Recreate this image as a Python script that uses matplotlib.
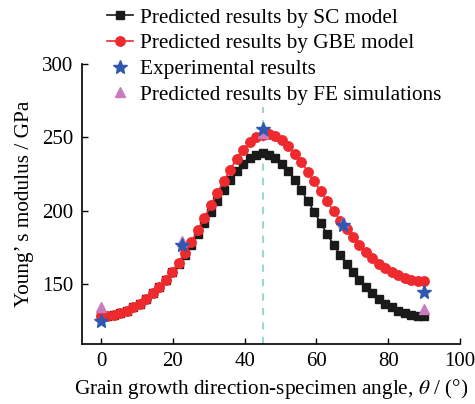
import matplotlib
matplotlib.use("Agg")
import matplotlib.pyplot as plt

plt.rcParams['font.family'] = ['Liberation Serif', 'DejaVu Serif']
plt.rcParams['mathtext.fontset'] = 'stix'

# Angle grid for model predictions (deg), step 1.8
theta_model = [0.0, 1.8, 3.6, 5.4, 7.2, 9.0, 10.8, 12.6, 14.4, 16.2, 18.0, 19.8, 21.6, 23.4, 25.2,
               27.0, 28.8, 30.6, 32.4, 34.2, 36.0, 37.8, 39.6, 41.4, 43.2, 45.0, 46.8, 48.6, 50.4,
               52.2, 54.0, 55.8, 57.6, 59.4, 61.2, 63.0, 64.8, 66.6, 68.4, 70.2, 72.0, 73.8, 75.6,
               77.4, 79.2, 81.0, 82.8, 84.6, 86.4, 88.2, 90.0]
sc_model = [128.0, 128.2, 128.9, 130.1, 131.8, 133.9, 136.6, 139.8, 143.5, 147.7, 152.5, 157.8,
            163.6, 169.9, 176.7, 183.9, 191.4, 199.0, 206.5, 213.9, 220.7, 226.8, 231.9, 235.8,
            238.2, 239.0, 238.2, 235.8, 231.9, 226.8, 220.7, 213.9, 206.5, 199.0, 191.4, 183.9,
            176.7, 169.9, 163.6, 157.8, 152.5, 147.7, 143.5, 139.8, 136.6, 133.9, 131.8, 130.1,
            128.9, 128.2, 128.0]
gbe_model = [128.0, 128.2, 128.9, 130.1, 131.8, 133.9, 136.6, 139.8, 143.5, 147.7, 152.6, 158.1,
             164.3, 171.2, 178.7, 186.7, 195.1, 203.5, 211.9, 220.2, 228.0, 235.3, 241.6, 246.6,
             250.1, 251.9, 252.2, 250.9, 248.1, 243.9, 238.9, 233.1, 226.6, 219.9, 213.1, 206.3,
             199.6, 193.2, 187.3, 181.7, 176.5, 171.7, 167.5, 163.8, 160.6, 157.9, 155.8, 154.1,
             152.9, 152.2, 152.0]

theta_exp = [0, 22.5, 45, 67.5, 90]
exp_results = [125.0, 176.5, 256.0, 190.0, 144.5]
fe_results = [134.0, 179.0, 253.0, 192.0, 133.0]

ref_angle = 45
ref_top = 271

labels = ["Predicted results by SC model", "Predicted results by GBE model",
          "Experimental results", "Predicted results by FE simulations"]

fig = plt.figure(figsize=(4.75, 4.04), dpi=100)
ax = fig.add_axes([82/475, 1-344/404, (460-82)/475, (344-64)/404])

ax.plot([ref_angle, ref_angle], [109, ref_top], ls=(0, (4, 4)), color='#8fd3cf', lw=1.3, zorder=1)

h1, = ax.plot(theta_model, sc_model, '-s', color='#1a1a1a', ms=5.6, lw=1.2, zorder=3)
h2, = ax.plot(theta_model, gbe_model, '-o', color='#ee2a2e', ms=6.8, lw=1.2, zorder=4)
h3, = ax.plot(theta_exp, exp_results, '*', color='#2f58b0', ms=10, ls='none', zorder=6)
h4, = ax.plot(theta_exp, fe_results, '^', color='#c87bbf', ms=7.5, ls='none', zorder=5)

ax.set_xlim(-5.3, 100)
ax.set_ylim(109, 300)
ax.set_xticks([0, 20, 40, 60, 80, 100])
ax.set_yticks([150, 200, 250, 300])
ax.spines['top'].set_visible(False)
ax.spines['right'].set_visible(False)
for s in ['left', 'bottom']:
    ax.spines[s].set_linewidth(1.2)
ax.tick_params(direction='in', length=4, width=1.0, labelsize=15, pad=6)

ax.set_xlabel(r"Grain growth direction-specimen angle, $\mathit{\theta}$ / (°)", fontsize=15.3, labelpad=4)
ax.set_ylabel("Young’ s modulus / GPa", fontsize=15.3, labelpad=6)

fig.legend([h1, h2, h3, h4], labels, loc='upper left', bbox_to_anchor=(107/475, 1-8/404),
           frameon=False, fontsize=15.3, handlelength=1.2, handletextpad=0.35,
           labelspacing=0.27, borderpad=0, borderaxespad=0)

fig.savefig("out.png", dpi=100)
